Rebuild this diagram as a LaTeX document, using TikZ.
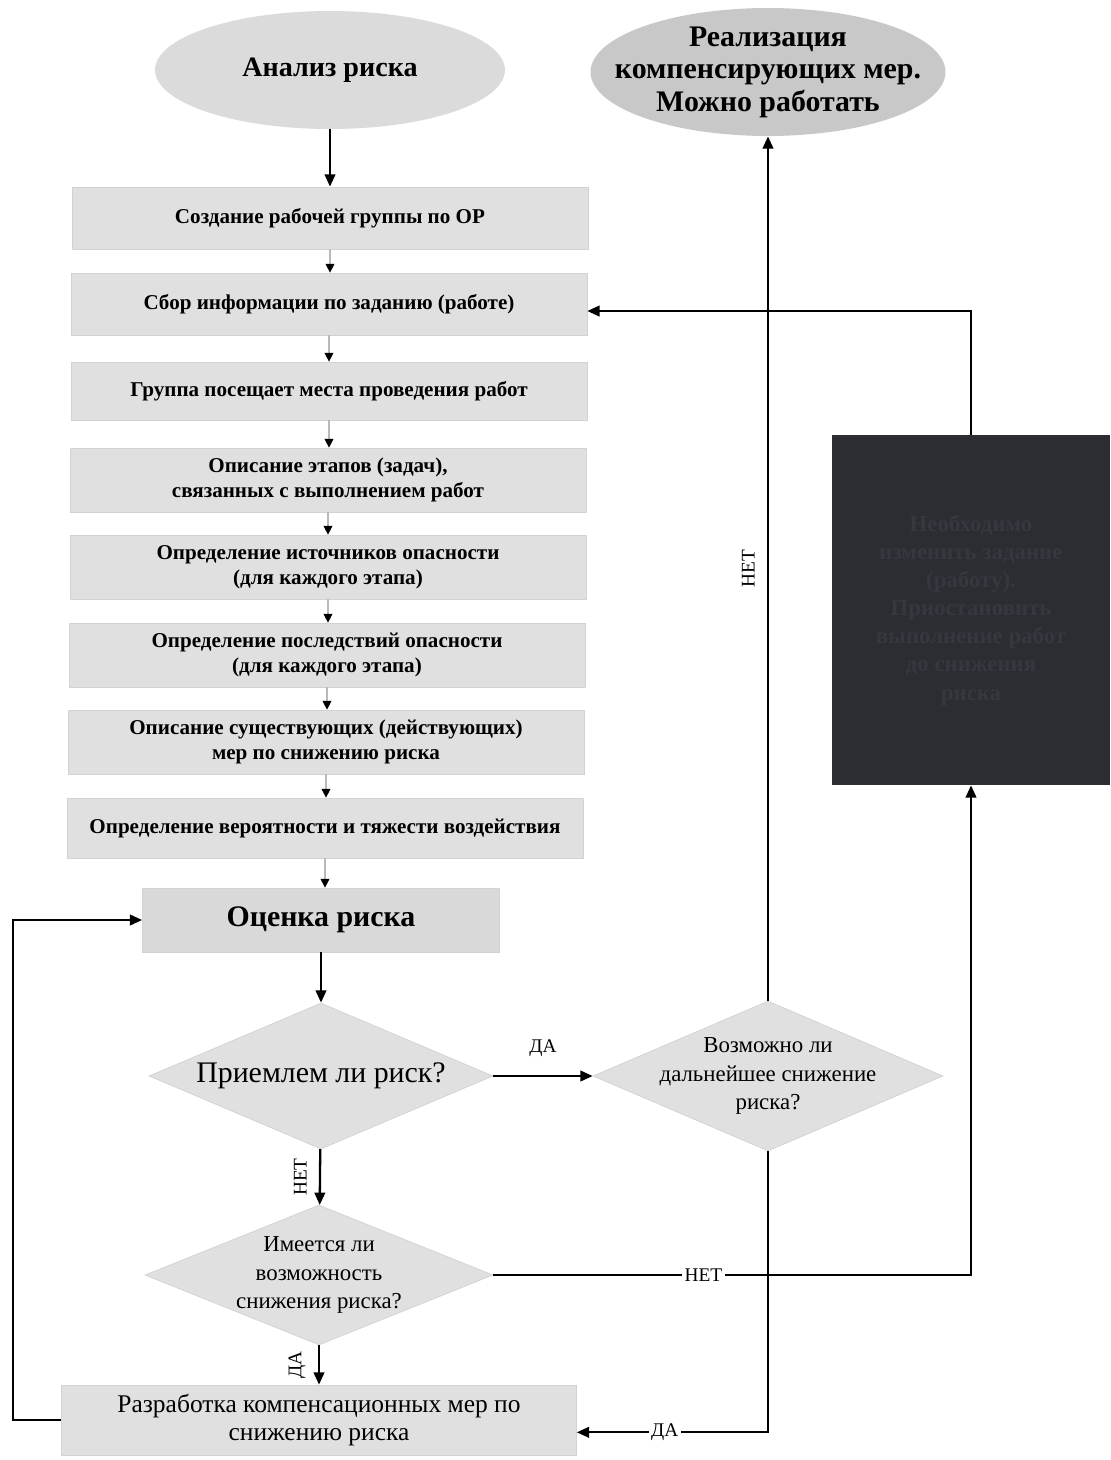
\documentclass[tikz,border=0pt]{standalone}
\usepackage{fontspec}
\setmainfont{Liberation Serif}
\usetikzlibrary{shapes.geometric,arrows.meta}
\definecolor{boxgray}{HTML}{E0E0E0}
\definecolor{ovalgray}{HTML}{C8C8C8}
\definecolor{darkbox}{HTML}{2B2D33}
\definecolor{darktext}{HTML}{36383F}
\begin{document}
\begin{tikzpicture}[x=0.02cm,y=-0.02cm,
    stage/.style={rectangle,fill=boxgray,draw=gray!35,minimum width=10.32cm,minimum height=1.24cm,
      inner sep=0pt,align=center,font=\fontsize{12pt}{14.5pt}\selectfont\bfseries},
    ask/.style={diamond,fill=boxgray,draw=gray!35,inner sep=0pt},
    asktext/.style={align=center,font=\fontsize{13pt}{16pt}\selectfont},
    flow/.style={draw=gray!55,line width=0.6pt,-{Triangle[black,length=5pt,width=5pt]}},
    main/.style={line width=1.3pt,-{Triangle[length=7pt,width=6pt]}},
    lab/.style={font=\fontsize{11pt}{13pt}\selectfont,fill=white,inner sep=1.5pt},
    vlab/.style={font=\fontsize{11pt}{13pt}\selectfont,rotate=90,anchor=south,inner xsep=1pt,inner ysep=7pt}]
      \fill[white] (0,0) rectangle (1110,1460);
      \node[ellipse,fill=gray!28,minimum width=7cm,minimum height=2.36cm,
        font=\fontsize{16pt}{19pt}\selectfont\bfseries] (start) at (330,70) {Анализ риска};
      \node[ellipse,fill=ovalgray,minimum width=7.1cm,minimum height=2.56cm,
        label={[align=center,font=\fontsize{17pt}{18.5pt}\selectfont\bfseries]center:Реализация\\компенсирующих мер.\\Можно работать}] (done) at (768,72) {};
      \node[stage] (b1) at (330,218) {Создание рабочей группы по ОР};
      \node[stage] (b2) at (329,304) {Сбор информации по заданию (работе)};
      \node[stage,minimum height=1.16cm] (b3) at (329,391) {Группа посещает места проведения работ};
      \node[stage,minimum height=1.28cm] (b4) at (328,480) {Описание этапов (задач),\\связанных с выполнением работ};
      \node[stage,minimum height=1.28cm] (b5) at (328,567) {Определение источников опасности\\(для каждого этапа)};
      \node[stage,minimum height=1.28cm] (b6) at (327,655) {Определение последствий опасности\\(для каждого этапа)};
      \node[stage,minimum height=1.28cm] (b7) at (326,742) {Описание существующих (действующих)\\мер по снижению риска};
      \node[stage,minimum height=1.2cm] (b8) at (325,828) {Определение вероятности и тяжести воздействия};
      \node[stage,fill=gray!30,minimum width=7.14cm,minimum height=1.28cm,
        font=\fontsize{17pt}{20pt}\selectfont\bfseries] (score) at (321,920) {Оценка риска};
      \node[ask,minimum width=6.88cm,minimum height=2.92cm,
        label={[font=\fontsize{17pt}{19pt}\selectfont]center:Приемлем ли риск?}] (d1) at (321,1076) {};
      \node[ask,minimum width=7cm,minimum height=3cm,
        label={[asktext]center:Возможно ли\\дальнейшее снижение\\риска?}] (d2) at (768,1076) {};
      \node[ask,minimum width=6.96cm,minimum height=2.8cm,
        label={[asktext]center:Имеется ли\\возможность\\снижения риска?}] (d3) at (319,1275) {};
      \node[stage,minimum width=10.3cm,minimum height=1.4cm,
        font=\fontsize{14.5pt}{16pt}\selectfont] (plan) at (319,1420) {Разработка компенсационных мер по\\снижению риска};
      \node[rectangle,fill=darkbox,minimum width=5.56cm,minimum height=7cm,text=darktext,align=center,
        font=\fontsize{13pt}{16pt}\selectfont\bfseries] (stop) at (971,610)
        {Необходимо\\изменить задание\\(работу).\\Приостановить\\выполнение работ\\до снижения\\риска};
      \begin{scope}[flow]
        \draw (b1.south) to (b1.south |- b2.north);
        \draw (b2.south) to (b2.south |- b3.north);
        \draw (b3.south) to (b3.south |- b4.north);
        \draw (b4.south) to (b4.south |- b5.north);
        \draw (b5.south) to (b5.south |- b6.north);
        \draw (b6.south) to (b6.south |- b7.north);
        \draw (b7.south) to (b7.south |- b8.north);
        \draw (b8.south) to (b8.south |- score.north);
      \end{scope}
      \begin{scope}[main]
        \draw (start) to (b1);
        \draw (score) to (d1);
        \draw (d1) to node[midway,above=7pt,font=\fontsize{11pt}{13pt}\selectfont]{ДА} (d2);
        \draw (d1) to node[vlab]{НЕТ} (d3);
        \draw (d3) to node[vlab]{ДА} (plan);
        \draw (d2.north) to node[vlab]{НЕТ} (done.south);
        \draw (plan.west) -- ++(-48,0) |- (score.west);
        \draw (d3.east) -| node[lab,pos=0.22]{НЕТ} (stop.south);
        \draw (d2.south) |- node[lab,pos=0.77]{ДА} ([yshift=-7pt]plan.east);
        \draw (stop.north) |- ([yshift=-4pt]b2.east);
      \end{scope}
    \end{tikzpicture}
\end{document}
